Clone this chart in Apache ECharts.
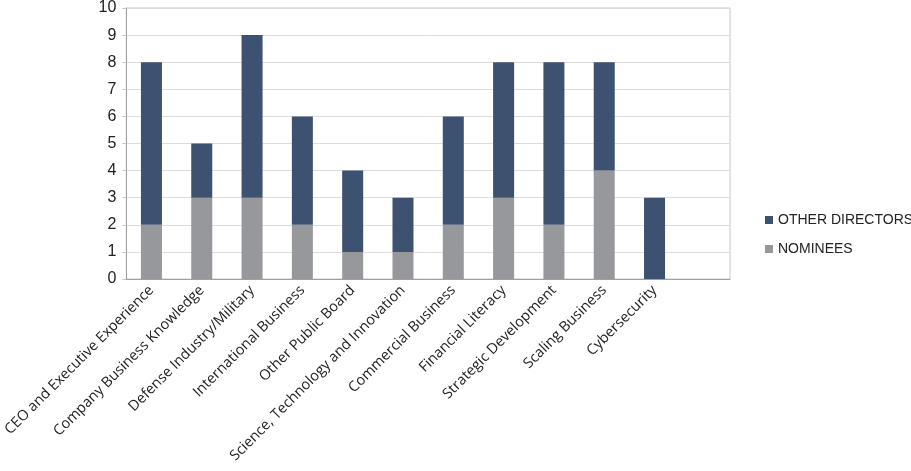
<!DOCTYPE html>
<html>
<head>
<meta charset="utf-8">
<script src="https://cdn.jsdelivr.net/npm/echarts@6/dist/echarts.min.js"></script>
<style>html,body{margin:0;padding:0;background:#fff;}#c{width:911px;height:471px;}</style>
</head>
<body>
<div id="c"></div>
<script>
const categories = ['CEO and Executive Experience','Company Business Knowledge','Defense Industry/Military','International Business','Other Public Board','Science, Technology and Innovation','Commercial Business','Financial Literacy','Strategic Development','Scaling Business','Cybersecurity',''];
const nominees = [2,3,3,2,1,1,2,3,2,4,0,null];
const otherDirectors = [6,2,6,4,3,2,4,5,6,4,3,null];
const yTicks = [0,1,2,3,4,5,6,7,8,9,10];

const chart = echarts.init(document.getElementById('c'), null, {renderer:'canvas'});
chart.setOption({
  animation:false,
  backgroundColor:'#fff',
  grid:{left:124, right:181, top:7, bottom:192, show:true, borderColor:'#c8c8c8', borderWidth:1, containLabel:false},
  legend:{
    orient:'vertical', left:760, top:208, itemGap:15,
    itemWidth:8, itemHeight:8, icon:'rect',
    textStyle:{fontFamily:'Liberation Sans, Arial', fontSize:14, color:'#222'},
    data:['OTHER DIRECTORS','NOMINEES']
  },
  xAxis:{
    type:'category', data:categories,
    axisLine:{lineStyle:{color:'#a0a0a0'}},
    axisTick:{show:false},
    axisLabel:{rotate:45, interval:0, margin:9, fontFamily:'Open Sans', fontSize:14.5, color:'#222'}
  },
  yAxis:{
    type:'value', min:0, max:10, interval:1,
    axisLine:{show:true, lineStyle:{color:'#a0a0a0'}},
    axisTick:{show:true, length:4, lineStyle:{color:'#c8c8c8'}},
    splitLine:{lineStyle:{color:'#dcdcdc'}},
    axisLabel:{margin:10, fontFamily:'Liberation Sans, Arial', fontSize:16, color:'#222',
      formatter:v=> yTicks.includes(v)? String(v):''}
  },
  series:[
    {name:'NOMINEES', type:'bar', stack:'s', data:nominees, barWidth:21, itemStyle:{color:'#97989c'}},
    {name:'OTHER DIRECTORS', type:'bar', stack:'s', data:otherDirectors, barWidth:21, itemStyle:{color:'#3d5170'}}
  ]
});
</script>
</body>
</html>
